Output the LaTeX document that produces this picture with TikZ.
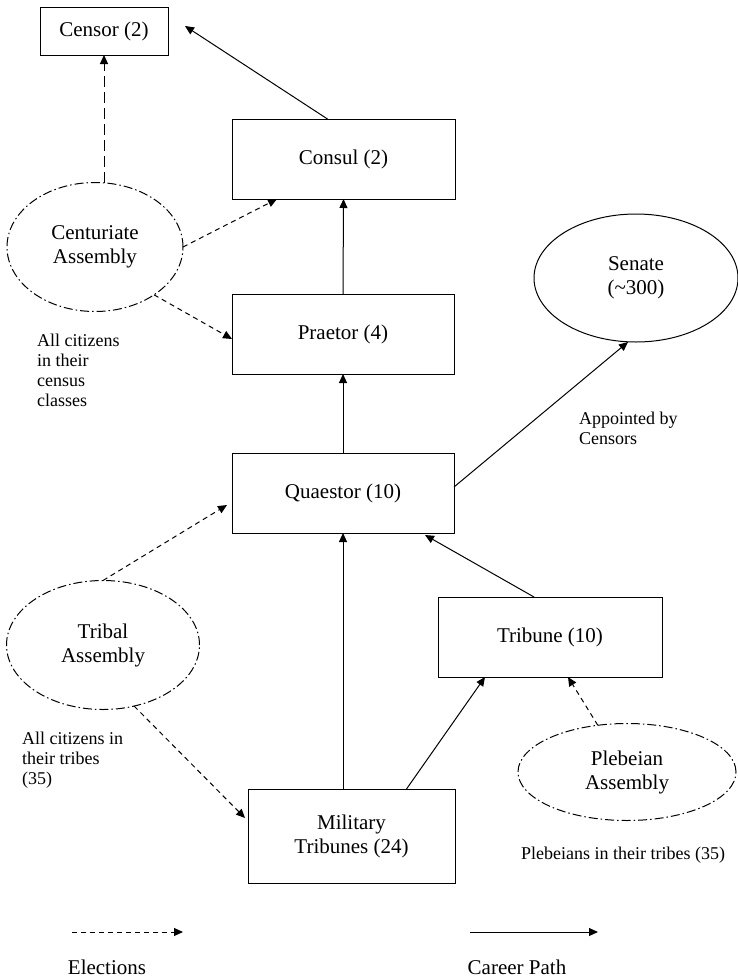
\documentclass[tikz,border=0pt]{standalone}
\usepackage{fontspec}
\setmainfont{Liberation Serif}
\usetikzlibrary{shapes.geometric,arrows.meta}
\begin{document}
\begin{tikzpicture}[x=1pt,y=-1pt,
  every node/.style={font=\fontsize{21pt}{24pt}\selectfont},
  office/.style={draw,line width=1pt,rectangle,inner sep=0pt,outer sep=0pt,align=center},
  assembly/.style={draw,line width=1pt,ellipse,inner sep=0pt,outer sep=0pt,align=center,
     dash pattern=on 9pt off 3pt on 1.5pt off 3pt},
  senatebox/.style={draw,line width=1pt,ellipse,inner sep=0pt,outer sep=0pt,align=center},
  note/.style={font=\fontsize{18pt}{20pt}\selectfont,align=left,inner sep=0pt},
  tip/.style={-{Triangle[length=9pt,width=8pt]}},
  career/.style={tip,line width=1pt},
  elect/.style={tip,line width=1pt,dash pattern=on 5pt off 4pt},
  electlong/.style={tip,line width=1pt,dash pattern=on 11pt off 5pt}]
\path[use as bounding box] (0,0) rectangle (738,978);

% offices
\node[office,minimum width=128pt,minimum height=48pt] (censor) at (104,31) {Censor (2)};
\node[office,minimum width=223pt,minimum height=80pt] (consul) at (343.5,159) {Consul (2)};
\node[office,minimum width=222pt,minimum height=80pt] (praetor) at (343,334) {Praetor (4)};
\node[office,minimum width=222pt,minimum height=80pt] (quaestor) at (343,493) {Quaestor (10)};
\node[office,minimum width=224pt,minimum height=80pt] (tribune) at (550,637) {Tribune (10)};
\node[office,minimum width=207pt,minimum height=94pt] (military) at (351.5,836) {Military\\Tribunes (24)};

% assemblies
\node[senatebox,minimum width=204pt,minimum height=128pt] (senate) at (636,278) {Senate\\(\char`~300)};
\node[assembly,minimum width=176pt,minimum height=129pt] (cent) at (95,247) {Centuriate\\Assembly};
\node[assembly,minimum width=193pt,minimum height=129pt] (tribal) at (103,645) {Tribal\\Assembly};
\node[assembly,minimum width=218pt,minimum height=97pt] (pleb) at (627,772) {Plebeian\\Assembly};

% notes
\node[note,anchor=north west] (n1) at (37,334) {All citizens\\in their\\census\\classes};
\node[note,anchor=north west] (n2) at (579,412) {Appointed by\\Censors};
\node[note,anchor=north west] (n3) at (22,732) {All citizens in\\their tribes\\(35)};
\node[note] (n4) at (623,855) {Plebeians in their tribes (35)};

% career path
\draw[career] ([xshift=-16pt]consul.north) -- ([xshift=17pt,yshift=5pt]censor.east);
\draw[career] (praetor.north) -- (consul.south);
\draw[career] (quaestor.north) -- (praetor.south);
\draw[career] ([yshift=6pt]quaestor.east) -- ([xshift=-8pt]senate.south);
\draw[career] (military.north -| quaestor.south) -- (quaestor.south);
\draw[career] ([xshift=55pt]military.north) -- ([xshift=-65pt]tribune.south);
\draw[career] ([xshift=-16pt]tribune.north) -- ([xshift=-29pt,yshift=-2pt]quaestor.south east);

% elections
\draw[electlong] (cent.north -| censor.south) -- (censor.south);
\draw[elect] (cent.east) -- ([xshift=45pt]consul.south west);
\draw[elect] (cent.-39) -- ([yshift=-5pt]praetor.west);
\draw[elect] (tribal.north) -- ([xshift=-5pt,yshift=-12pt]quaestor.west);
\draw[elect] (tribal.-63) -- ([xshift=-3pt,yshift=18pt]military.west);
\draw[elect] (pleb.122) -- ([xshift=18pt]tribune.south);

% legend
\coordinate (le1) at (72,932);
\coordinate (le2) at (183,932);
\coordinate (lc1) at (470,932);
\coordinate (lc2) at (598,932);
\draw[elect] (le1) -- (le2);
\draw[career] (lc1) -- (lc2);
\node (lel) at (107,967) {Elections};
\node (lcl) at (517,967) {Career Path};
\end{tikzpicture}
\end{document}
